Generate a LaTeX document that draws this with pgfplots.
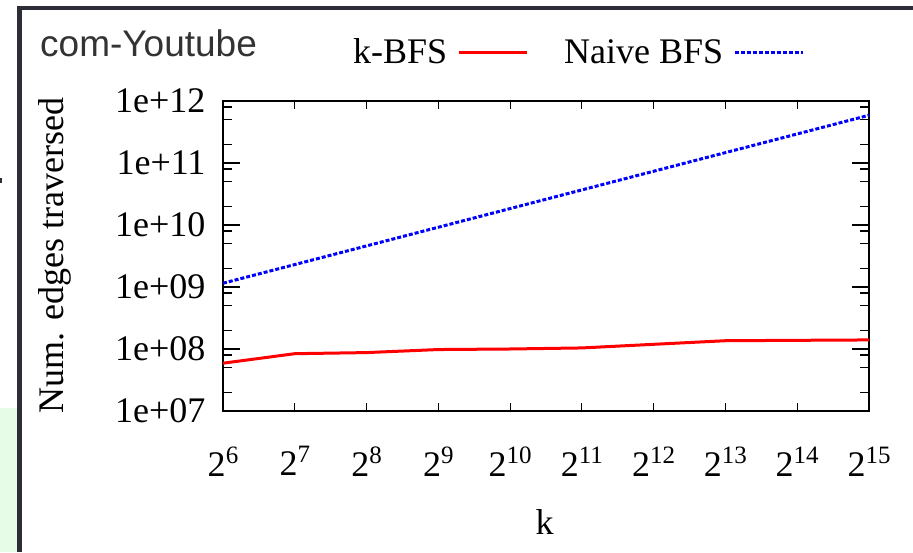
\documentclass[border=0pt]{standalone}
\usepackage{pgfplots}
\pgfplotsset{compat=1.18}
\usepackage{pgfplotstable}
\usepackage{fontspec}
\setmainfont{Liberation Serif}
\newfontfamily\sansf{Liberation Sans}

\definecolor{framegray}{HTML}{2D2D38}
\definecolor{panelgreen}{HTML}{E6FCE6}
\definecolor{titlegray}{HTML}{333333}

% power-of-two tick label with a raised exponent
\newcommand{\pw}[1]{2\raisebox{13pt}{\fontsize{25}{25}\selectfont #1}}

% k (as log2), edges traversed by k-BFS, edges traversed by naive BFS
\pgfplotstableread{
logk  kbfs     naive
6     5.9e7    1.15e9
7     8.4e7    2.30e9
8     8.75e7   4.60e9
9     9.8e7    9.20e9
10    1.00e8   1.84e10
11    1.04e8   3.68e10
12    1.19e8   7.36e10
13    1.36e8   1.47e11
14    1.38e8   2.94e11
15    1.40e8   5.89e11
}\edgedata

\begin{document}
\begin{tikzpicture}[x=1pt,y=1pt]
  \fill[white] (0,0) rectangle (913,552);
  \fill[panelgreen] (0,0) rectangle (17.3,144);
  \fill[framegray] (17.3,0) rectangle (22,546);
  \fill[framegray] (17.3,541.5) rectangle (913,546);
  \fill[framegray] (0,369) rectangle (2,374);
  \useasboundingbox (0,0) rectangle (913,552);

  \node[anchor=base west, text=titlegray, font=\sansf\fontsize{37}{40}\selectfont, inner sep=0pt]
    at (40,495.5) {com-Youtube};

  \begin{axis}[
    at={(223pt,141pt)}, anchor=south west,
    scale only axis, width=646pt, height=310pt,
    ymode=log, ymin=1e7, ymax=1e12,
    xmin=6, xmax=15,
    axis line style={line width=1.2pt},
    tick style={line width=1.2pt, black},
    tick align=inside,
    xtick={6,...,15},
    xticklabels={\pw{6},\pw{7},\pw{8},\pw{9},\pw{10},\pw{11},\pw{12},\pw{13},\pw{14},\pw{15}},
    ytick={1e7,1e8,1e9,1e10,1e11,1e12},
    yticklabels={1e+07,1e+08,1e+09,1e+10,1e+11,1e+12},
    minor ytick={2e7,5e7,8e7,2e8,5e8,8e8,2e9,5e9,8e9,2e10,5e10,8e10,2e11,5e11,8e11},
    xtick style={/pgfplots/major tick length=8pt},
    ytick style={/pgfplots/major tick length=17pt},
    minor tick length=9pt,
    tick label style={font=\fontsize{36}{40}\selectfont},
    yticklabel style={xshift=-14pt},
    xticklabel style={yshift=-32pt},
    xlabel={k},
    ylabel={Num. edges traversed},
    label style={font=\fontsize{36}{40}\selectfont},
    xlabel style={at={(axis description cs:0.498,-0.358)}, anchor=center},
    ylabel style={at={(axis description cs:-0.260,0.503)}, anchor=center},
    legend columns=2,
    legend plot pos=right,
    legend style={draw=none, fill=none, font=\fontsize{36}{40}\selectfont,
      at={(axis description cs:0.549,1.158)}, anchor=center,
      /tikz/every even column/.append style={column sep=34pt}},
    legend image code/.code={\path (0pt,0pt); \draw[#1] (8pt,0pt) -- (76pt,0pt);},
  ]
    \addplot[red, line width=3pt] table[x=logk, y=kbfs] {\edgedata};
    \addlegendentry{k-BFS}
    \addplot[blue, line width=3pt, dash pattern=on 4pt off 2pt] table[x=logk, y=naive] {\edgedata};
    \addlegendentry{Naive BFS}
  \end{axis}
\end{tikzpicture}
\end{document}
